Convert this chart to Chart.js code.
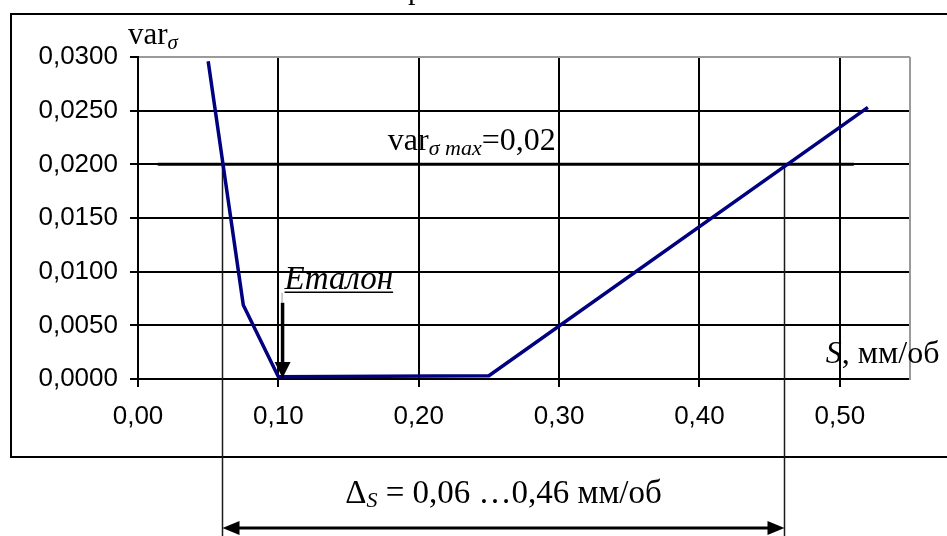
<!DOCTYPE html>
<html lang="uk">
<head>
<meta charset="utf-8">
<title>varσ від подачі S</title>
<script src="https://cdn.jsdelivr.net/npm/chart.js@4"></script>
<style>
    html, body { margin: 0; padding: 0; background: #ffffff; }
    #wrap { width: 947px; height: 536px; }
</style>
</head>
<body>
<div id="wrap"><canvas id="varChart" width="947" height="536"></canvas></div>
<script>
"use strict";

/*==========================================================
    Variation of stress vs feed S
==========================================================*/

// feed S, мм/об
const sValues = [0.05, 0.075, 0.10, 0.25, 0.52];
// varσ for each feed
const varValues = [0.0296, 0.0069, 0.0002, 0.0003, 0.0253];

// allowed maximum varσ max and the span of the limit line
const limitVar = 0.02;
const limitSpan = [0.014, 0.51];

// admissible feed range Δs
const rangeS = [0.06, 0.46];

// reference (еталон) feed and the top of its pointer
const etalonS = 0.103;
const etalonTop = 0.0071;

const sTicks = [0, 0.1, 0.2, 0.3, 0.4, 0.5];
const varTicks = [0, 0.005, 0.01, 0.015, 0.02, 0.025, 0.03];

const SANS = "'Liberation Sans', Arial, sans-serif";
const SERIF = "'Liberation Serif', 'Times New Roman', serif";

/*----------------------------------------------------------
    small drawing helpers
----------------------------------------------------------*/

function drawRuns(ctx, x, y, runs, align) {

    let total = 0;

    runs.forEach((r) => {
        ctx.font = r.font;
        total += ctx.measureText(r.text).width;
    });

    let cx = align === "center" ? x - total / 2 : x;

    ctx.textAlign = "left";
    ctx.textBaseline = "alphabetic";

    runs.forEach((r) => {
        ctx.font = r.font;
        ctx.fillText(r.text, cx, y + (r.dy || 0));
        cx += ctx.measureText(r.text).width;
    });

    return total;

}

function arrowHead(ctx, tipX, tipY, dirX, dirY, len, half) {

    const bx = tipX - dirX * len;
    const by = tipY - dirY * len;

    ctx.beginPath();
    ctx.moveTo(tipX, tipY);
    ctx.lineTo(bx - dirY * half, by + dirX * half);
    ctx.lineTo(bx + dirY * half, by - dirX * half);
    ctx.closePath();
    ctx.fill();

}

/*----------------------------------------------------------
    frame, range markers and labels
----------------------------------------------------------*/

const decorations = {

    id: "decorations",

    beforeDraw(chart) {

        const ctx = chart.ctx;

        ctx.save();
        ctx.fillStyle = "#ffffff";
        ctx.fillRect(0, 0, chart.width, chart.height);

        // outer frame of the chart object
        ctx.strokeStyle = "#000000";
        ctx.lineWidth = 2;
        ctx.strokeRect(11, 14, chart.width + 20, 443);

        // title line sits above the frame
        ctx.fillStyle = "#000000";
        ctx.font = `30px ${SERIF}`;
        ctx.textAlign = "left";
        ctx.textBaseline = "alphabetic";
        ctx.fillText("р", 408, -1);

        ctx.restore();

    },

    beforeDatasetsDraw(chart) {

        const ctx = chart.ctx;
        const x = chart.scales.x;
        const y = chart.scales.y;
        const area = chart.chartArea;

        ctx.save();

        // plot border, right side
        ctx.strokeStyle = "#9a9a9a";
        ctx.lineWidth = 2;
        ctx.beginPath();
        ctx.moveTo(area.right, area.top);
        ctx.lineTo(area.right, area.bottom + 1);
        ctx.stroke();

        // Δs bounds dropped from the limit line
        ctx.strokeStyle = "#1a1a1a";
        ctx.lineWidth = 1.5;

        rangeS.forEach((s) => {
            const px = Math.round(x.getPixelForValue(s)) + 0.5;
            ctx.beginPath();
            ctx.moveTo(px, y.getPixelForValue(limitVar));
            ctx.lineTo(px, chart.height);
            ctx.stroke();
        });

        ctx.restore();

    },

    afterDatasetsDraw(chart) {

        const ctx = chart.ctx;
        const x = chart.scales.x;
        const y = chart.scales.y;
        const area = chart.chartArea;

        ctx.save();
        ctx.fillStyle = "#000000";
        ctx.strokeStyle = "#000000";

        // axis name for varσ
        drawRuns(ctx, area.left - 10, 44, [
            { text: "var", font: `31px ${SERIF}` },
            { text: "σ", font: `italic 21px ${SERIF}`, dy: 5 }
        ]);

        // limit caption
        drawRuns(ctx, x.getPixelForValue(0.178), y.getPixelForValue(limitVar) - 14, [
            { text: "var", font: `32px ${SERIF}` },
            { text: "σ max", font: `italic 22px ${SERIF}`, dy: 5 },
            { text: "=0,02", font: `32px ${SERIF}` }
        ]);

        // axis name for S
        drawRuns(ctx, x.getPixelForValue(0.49), y.getPixelForValue(0.0015), [
            { text: "S", font: `italic 32px ${SERIF}` },
            { text: ", мм/об", font: `32px ${SERIF}` }
        ]);

        // reference feed pointer
        const ex = x.getPixelForValue(etalonS);
        const eTop = y.getPixelForValue(etalonTop);
        const eTip = y.getPixelForValue(0) - 1;

        ctx.font = `italic 33px ${SERIF}`;
        ctx.textAlign = "left";
        ctx.textBaseline = "alphabetic";
        const eWidth = ctx.measureText("Еталон").width;
        ctx.fillText("Еталон", ex + 2, eTop - 14);

        ctx.lineWidth = 1.5;
        ctx.beginPath();
        ctx.moveTo(ex + 2, eTop - 10.5);
        ctx.lineTo(ex + 2 + eWidth, eTop - 10.5);
        ctx.stroke();

        ctx.strokeStyle = "#9a9a9a";
        ctx.lineWidth = 1;
        ctx.beginPath();
        ctx.moveTo(ex - 0.5, eTop - 10);
        ctx.lineTo(ex - 0.5, eTop);
        ctx.stroke();

        ctx.strokeStyle = "#000000";
        ctx.lineWidth = 3.5;
        ctx.beginPath();
        ctx.moveTo(ex, eTop);
        ctx.lineTo(ex, eTip - 14);
        ctx.stroke();
        arrowHead(ctx, ex, eTip, 0, 1, 16, 8);

        // Δs dimension arrow below the frame
        const x1 = Math.round(x.getPixelForValue(rangeS[0])) + 0.5;
        const x2 = Math.round(x.getPixelForValue(rangeS[1])) + 0.5;
        const ay = 528;

        ctx.lineWidth = 3;
        ctx.beginPath();
        ctx.moveTo(x1 + 12, ay);
        ctx.lineTo(x2 - 12, ay);
        ctx.stroke();
        arrowHead(ctx, x1, ay, -1, 0, 17, 7);
        arrowHead(ctx, x2, ay, 1, 0, 17, 7);

        drawRuns(ctx, (x1 + x2) / 2, 503, [
            { text: "Δ", font: `33px ${SERIF}` },
            { text: "S", font: `italic 22px ${SERIF}`, dy: 4 },
            { text: " = 0,06 …0,46 мм/об", font: `33px ${SERIF}` }
        ], "center");

        ctx.restore();

    }

};

/*----------------------------------------------------------
    chart
----------------------------------------------------------*/

const curve = sValues.map((s, i) => ({ x: s, y: varValues[i] }));
const limitLine = limitSpan.map((s) => ({ x: s, y: limitVar }));

const commaFixed = (digits) => (value) =>
    Number(value).toFixed(digits).replace(".", ",");

new Chart(document.getElementById("varChart"), {

    type: "scatter",

    data: {

        datasets: [

            {
                label: "varσ",
                data: curve,
                showLine: true,
                borderColor: "#000080",
                borderWidth: 3.5,
                pointRadius: 0,
                tension: 0
            },

            {
                label: "varσ max",
                data: limitLine,
                showLine: true,
                borderColor: "#000000",
                borderWidth: 3,
                pointRadius: 0
            }

        ]

    },

    options: {

        responsive: false,
        animation: false,
        devicePixelRatio: 1,

        layout: {
            padding: { left: 0, top: 57, right: 37, bottom: 97 }
        },

        plugins: {
            legend: { display: false },
            tooltip: { enabled: false },
            title: { display: false }
        },

        scales: {

            x: {
                type: "linear",
                min: 0,
                max: 0.55,
                afterBuildTicks(scale) {
                    scale.ticks = sTicks.map((v) => ({ value: v }));
                },
                afterFit(scale) {
                    scale.height = 60;
                },
                ticks: {
                    callback: commaFixed(2),
                    color: "#000000",
                    font: { family: SANS, size: 26 },
                    padding: 14,
                    maxRotation: 0
                },
                grid: {
                    color: "#000000",
                    lineWidth: 2,
                    tickLength: 8,
                    tickColor: "#000000",
                    tickWidth: 2
                },
                border: { color: "#000000", width: 2 }
            },

            y: {
                type: "linear",
                min: 0,
                max: 0.03,
                afterBuildTicks(scale) {
                    scale.ticks = varTicks.map((v) => ({ value: v }));
                },
                afterFit(scale) {
                    scale.width = 138;
                },
                ticks: {
                    callback: commaFixed(4),
                    color: "#000000",
                    font: { family: SANS, size: 26 },
                    padding: 12
                },
                grid: {
                    color: (c) =>
                        c.tick && c.tick.value >= 0.03 ? "#9a9a9a" : "#000000",
                    lineWidth: 2,
                    tickLength: 8,
                    tickColor: "#000000",
                    tickWidth: 2
                },
                border: { color: "#000000", width: 2 }
            }

        }

    },

    plugins: [decorations]

});
</script>
</body>
</html>
